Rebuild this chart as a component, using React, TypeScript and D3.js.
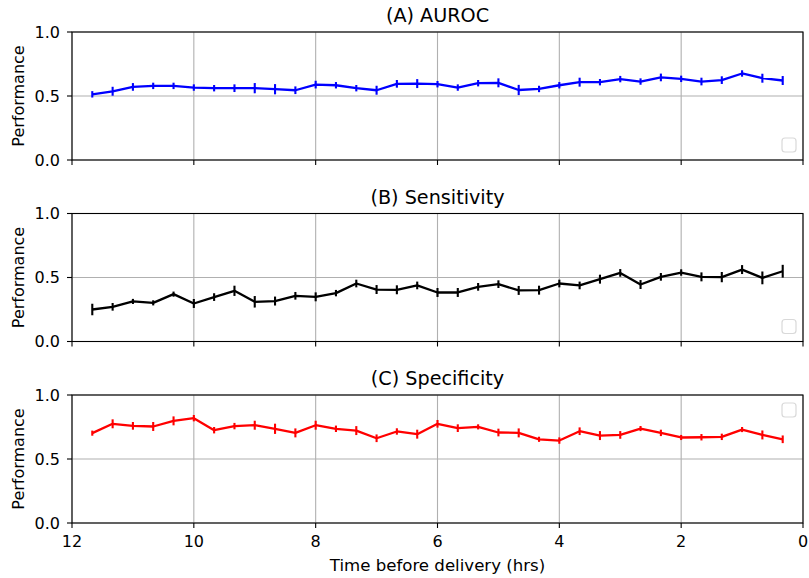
import * as d3 from "d3";

// hours before delivery, 11.67 down to 0.33
const hours = [
  11.667, 11.333, 11, 10.667, 10.333, 10, 9.667, 9.333, 9, 8.667, 8.333, 8,
  7.667, 7.333, 7, 6.667, 6.333, 6, 5.667, 5.333, 5, 4.667, 4.333, 4, 3.667,
  3.333, 3, 2.667, 2.333, 2, 1.667, 1.333, 1, 0.667, 0.333,
];

const aurocMean = [
  0.513, 0.537, 0.571, 0.579, 0.579, 0.566, 0.561, 0.561, 0.561, 0.553, 0.545,
  0.589, 0.584, 0.561, 0.545, 0.595, 0.597, 0.592, 0.566, 0.6, 0.603, 0.547,
  0.555, 0.584, 0.608, 0.608, 0.632, 0.613, 0.645, 0.634, 0.613, 0.624, 0.676,
  0.639, 0.621,
];
const aurocErr = [
  0.025, 0.035, 0.03, 0.025, 0.025, 0.025, 0.025, 0.03, 0.04, 0.04, 0.03, 0.03,
  0.025, 0.025, 0.035, 0.03, 0.035, 0.025, 0.025, 0.025, 0.035, 0.04, 0.025,
  0.025, 0.035, 0.025, 0.025, 0.025, 0.03, 0.025, 0.03, 0.03, 0.025, 0.035,
  0.035,
];

const sensMean = [
  0.25, 0.271, 0.313, 0.302, 0.37, 0.297, 0.347, 0.396, 0.31, 0.316, 0.357,
  0.349, 0.378, 0.453, 0.406, 0.404, 0.438, 0.383, 0.383, 0.427, 0.448, 0.399,
  0.401, 0.453, 0.438, 0.487, 0.536, 0.445, 0.505, 0.539, 0.505, 0.503, 0.562,
  0.497, 0.549,
];
const sensErr = [
  0.045, 0.03, 0.02, 0.02, 0.02, 0.035, 0.03, 0.04, 0.045, 0.035, 0.03, 0.035,
  0.025, 0.03, 0.035, 0.035, 0.03, 0.035, 0.035, 0.03, 0.03, 0.035, 0.035,
  0.03, 0.03, 0.035, 0.03, 0.035, 0.03, 0.025, 0.035, 0.04, 0.035, 0.05, 0.05,
];

const specMean = [
  0.702, 0.775, 0.759, 0.754, 0.798, 0.819, 0.725, 0.757, 0.764, 0.736, 0.704,
  0.764, 0.736, 0.722, 0.662, 0.715, 0.694, 0.775, 0.741, 0.751, 0.707, 0.704,
  0.654, 0.644, 0.717, 0.683, 0.688, 0.738, 0.704, 0.668, 0.67, 0.673, 0.73,
  0.688, 0.654,
];
const specErr = [
  0.02, 0.035, 0.03, 0.035, 0.035, 0.025, 0.025, 0.025, 0.035, 0.04, 0.035,
  0.035, 0.025, 0.035, 0.03, 0.025, 0.035, 0.03, 0.03, 0.02, 0.03, 0.035, 0.02,
  0.025, 0.03, 0.035, 0.03, 0.02, 0.025, 0.02, 0.025, 0.025, 0.02, 0.035, 0.03,
];

const xTicks = [12, 10, 8, 6, 4, 2, 0];
const yTicks = [0, 0.5, 1];

const panels = [
  { title: "(A) AUROC", mean: aurocMean, err: aurocErr, color: "#0000ff", top: 32, legend: "bottom" },
  { title: "(B) Sensitivity", mean: sensMean, err: sensErr, color: "#000000", top: 213.5, legend: "bottom" },
  { title: "(C) Specificity", mean: specMean, err: specErr, color: "#ff0000", top: 395, legend: "top" },
];

const W = 809;
const H = 578;
const left = 72;
const right = 803;
const ph = 128;
const font = "DejaVu Sans, sans-serif";

export default function App() {
  const x = d3.scaleLinear().domain([12, 0]).range([left, right]);

  return (
    <svg
      width={W}
      height={H}
      style={{ position: "absolute", left: 0, top: 0, background: "#fff" }}
      fontFamily={font}
    >
      {panels.map((p, pi) => {
        const y = d3.scaleLinear().domain([0, 1]).range([p.top + ph, p.top]);
        const line = d3
          .line<number>()
          .x((_, i) => x(hours[i]))
          .y((d) => y(d));
        const isLast = pi === panels.length - 1;
        const ly = p.legend === "bottom" ? p.top + ph - 22 : p.top + 8;
        return (
          <g key={p.title}>
            {/* grid */}
            {xTicks.map((t) => (
              <line key={"gx" + t} x1={x(t)} x2={x(t)} y1={p.top} y2={p.top + ph} stroke="#b0b0b0" strokeWidth={1.1} />
            ))}
            {yTicks.map((t) => (
              <line key={"gy" + t} x1={left} x2={right} y1={y(t)} y2={y(t)} stroke="#b0b0b0" strokeWidth={1.1} />
            ))}
            {/* error bars */}
            {p.mean.map((m, i) => (
              <line
                key={"e" + i}
                x1={x(hours[i])}
                x2={x(hours[i])}
                y1={y(m - p.err[i])}
                y2={y(m + p.err[i])}
                stroke={p.color}
                strokeWidth={2.1}
              />
            ))}
            <path d={line(p.mean) ?? ""} fill="none" stroke={p.color} strokeWidth={2.3} strokeLinejoin="round" />
            {/* empty legend */}
            <rect x={782} y={ly} width={14} height={14} rx={3} fill="#fff" fillOpacity={0.8} stroke="#d9d9d9" strokeWidth={1.2} />
            {/* frame */}
            <rect x={left} y={p.top} width={right - left} height={ph} fill="none" stroke="#000" strokeWidth={1.1} />
            {/* y ticks */}
            {yTicks.map((t) => (
              <g key={"yt" + t}>
                <line x1={left - 5} x2={left} y1={y(t)} y2={y(t)} stroke="#000" strokeWidth={1.1} />
                <text x={left - 12} y={y(t)} dy="0.36em" textAnchor="end" fontSize={16} fill="#000">
                  {t.toFixed(1)}
                </text>
              </g>
            ))}
            {/* x ticks */}
            {xTicks.map((t) => (
              <g key={"xt" + t}>
                <line x1={x(t)} x2={x(t)} y1={p.top + ph} y2={p.top + ph + 5} stroke="#000" strokeWidth={1.1} />
                {isLast && (
                  <text x={x(t)} y={p.top + ph + 24} textAnchor="middle" fontSize={16} fill="#000">
                    {t}
                  </text>
                )}
              </g>
            ))}
            <text x={(left + right) / 2} y={p.top - 10} textAnchor="middle" fontSize={19.2} fill="#000">
              {p.title}
            </text>
            <text
              transform={`translate(24,${p.top + ph / 2}) rotate(-90)`}
              textAnchor="middle"
              fontSize={16}
              fill="#000"
            >
              Performance
            </text>
          </g>
        );
      })}
      <text x={(left + right) / 2} y={571} textAnchor="middle" fontSize={16.6} fill="#000">
        Time before delivery (hrs)
      </text>
    </svg>
  );
}
